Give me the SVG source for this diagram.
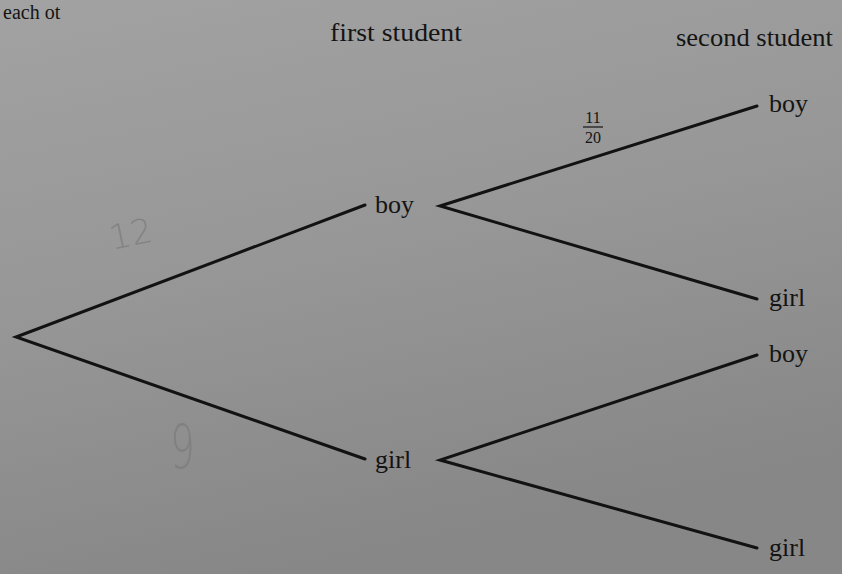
<svg xmlns="http://www.w3.org/2000/svg" width="842" height="574" viewBox="0 0 842 574">
  <defs>
    <linearGradient id="bg" x1="0" y1="0" x2="0.3" y2="1">
      <stop offset="0" stop-color="#a2a2a2"/>
      <stop offset="0.5" stop-color="#979797"/>
      <stop offset="1" stop-color="#878787"/>
    </linearGradient>
    <style>
      .lbl { font-family: "Liberation Serif", "Times New Roman", serif; font-size: 26px; fill: #141414; }
      .frac { font-family: "Liberation Serif", "Times New Roman", serif; font-size: 16px; fill: #141414; }
      .edge { stroke: #121212; stroke-width: 3; fill: none; stroke-linecap: round; stroke-linejoin: miter; }
      .pencil { font-family: "DejaVu Sans", sans-serif; font-weight: 200; fill: #7c7c7c; opacity: 0.75; }
    </style>
  </defs>
  <rect x="0" y="0" width="842" height="574" fill="url(#bg)"/>
  <text class="lbl" x="3" y="19" style="font-size:20px">each ot</text>

  <g id="headers">
    <text class="lbl" x="330" y="41" textLength="132" lengthAdjust="spacingAndGlyphs">first student</text>
    <text class="lbl" x="676" y="46" textLength="157" lengthAdjust="spacingAndGlyphs">second student</text>
  </g>

  <g id="connectors">
    <polyline class="edge" points="365,205 16,337 365,459"/>
    <polyline class="edge" points="757,106 440,206 757,299"/>
    <polyline class="edge" points="757,355 440,460 757,548"/>
  </g>

  <g id="node-first-boy"><text class="lbl" x="375" y="213">boy</text></g>
  <g id="node-first-girl"><text class="lbl" x="375" y="468">girl</text></g>
  <g id="node-boy-boy"><text class="lbl" x="769" y="112">boy</text></g>
  <g id="node-boy-girl"><text class="lbl" x="769" y="306">girl</text></g>
  <g id="node-girl-boy"><text class="lbl" x="769" y="362">boy</text></g>
  <g id="node-girl-girl"><text class="lbl" x="769" y="556">girl</text></g>

  <g id="prob-boy-boy">
    <text class="frac" x="593" y="123" text-anchor="middle">11</text>
    <line x1="583" y1="127" x2="603" y2="127" stroke="#141414" stroke-width="1.2"/>
    <text class="frac" x="593" y="143" text-anchor="middle">20</text>
  </g>

  <g id="pencil-notes">
    <text class="pencil" x="112" y="250" font-size="34" transform="rotate(-12 112 250)">12</text>
    <text class="pencil" font-size="52" transform="translate(170 468) scale(0.75 1.15)">9</text>
  </g>
</svg>
